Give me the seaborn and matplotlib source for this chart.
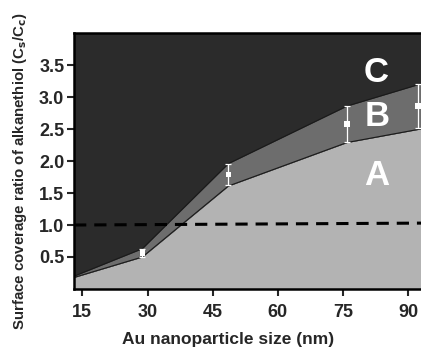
import numpy as np
import pandas as pd
import matplotlib
matplotlib.use("Agg")
import matplotlib.pyplot as plt
import seaborn as sns

# Region boundaries
boundary_x = [13.1, 28.8, 48.6, 75.9, 93.5]
lower_a = [0.18, 0.50, 1.61, 2.29, 2.51]   # top of region A
upper_b = [0.20, 0.63, 1.96, 2.86, 3.22]   # top of region B

# Measured points with error bars
size_nm = [28.8, 48.6, 75.9, 92.2]
ratio = [0.56, 1.79, 2.58, 2.86]
ratio_err = [0.06, 0.17, 0.28, 0.35]

# Reference line at ratio = 1
ref_x = [13.1, 93.5]
ref_y = [1.0, 1.03]

x_ticks = [15, 30, 45, 60, 75, 90]
y_ticks = [0.5, 1.0, 1.5, 2.0, 2.5, 3.0, 3.5]

region_labels = ["A", "B", "C"]
region_label_x = [82.8, 82.8, 82.6]
region_label_y = [1.77, 2.69, 3.39]

sns.set_style("ticks")
plt.rcParams["font.family"] = ["Liberation Sans", "DejaVu Sans"]
plt.rcParams["font.weight"] = "bold"

fig = plt.figure(figsize=(4.21, 3.49), dpi=100)
ax = fig.add_axes([0.176, 0.172, 0.83, 0.733])

ax.set_facecolor("#2b2b2b")
ax.fill_between(boundary_x, 0, lower_a, color="#b3b3b3", lw=0)
ax.fill_between(boundary_x, lower_a, upper_b, color="#6d6d6d", lw=0)

bdf = pd.DataFrame({"x": boundary_x, "lower": lower_a, "upper": upper_b})
sns.lineplot(data=bdf, x="x", y="lower", ax=ax, color="#1a1a1a", lw=0.8, sort=False)
sns.lineplot(data=bdf, x="x", y="upper", ax=ax, color="#1a1a1a", lw=0.8, sort=False)

rdf = pd.DataFrame({"x": ref_x, "y": ref_y})
sns.lineplot(data=rdf, x="x", y="y", ax=ax, color="black", lw=2.2,
             dashes=False, linestyle=(0, (4, 2.6)))

ax.errorbar(size_nm, ratio, yerr=ratio_err, fmt="none", ecolor="white",
            elinewidth=0.9, capsize=2.5, capthick=0.9, zorder=4)
pdf = pd.DataFrame({"x": size_nm, "y": ratio})
sns.scatterplot(data=pdf, x="x", y="y", ax=ax, marker="s", color="white",
                s=16, edgecolor="none", zorder=5)

for lab, lx, ly in zip(region_labels, region_label_x, region_label_y):
    ax.text(lx, ly, lab, color="white", fontsize=25, fontweight="bold",
            ha="center", va="center")

ax.set_xlim(13.1, 93.5)
ax.set_ylim(0, 4.0)
ax.set_xticks(x_ticks)
ax.set_yticks(y_ticks)
ax.set_xticklabels([str(t) for t in x_ticks], fontsize=13, fontweight="bold")
ax.set_yticklabels([f"{t:.1f}" for t in y_ticks], fontsize=13, fontweight="bold")
ax.tick_params(direction="out", length=5, width=1.5)
ax.tick_params(axis="x", pad=6)
ax.tick_params(axis="y", pad=2)
for s in ax.spines.values():
    s.set_linewidth(1.8)
    s.set_color("black")

ax.set_xlabel("Au nanoparticle size (nm)", fontsize=12.5, fontweight="bold")
ax.xaxis.set_label_coords(0.44, -0.168)
ax.set_ylabel("Surface coverage ratio of alkanethiol (C$_\\mathbf{s}$/C$_\\mathbf{c}$)",
              fontsize=10.8, fontweight="bold")
ax.yaxis.set_label_coords(-0.13, 0.46)

fig.savefig("out.png", dpi=100)
